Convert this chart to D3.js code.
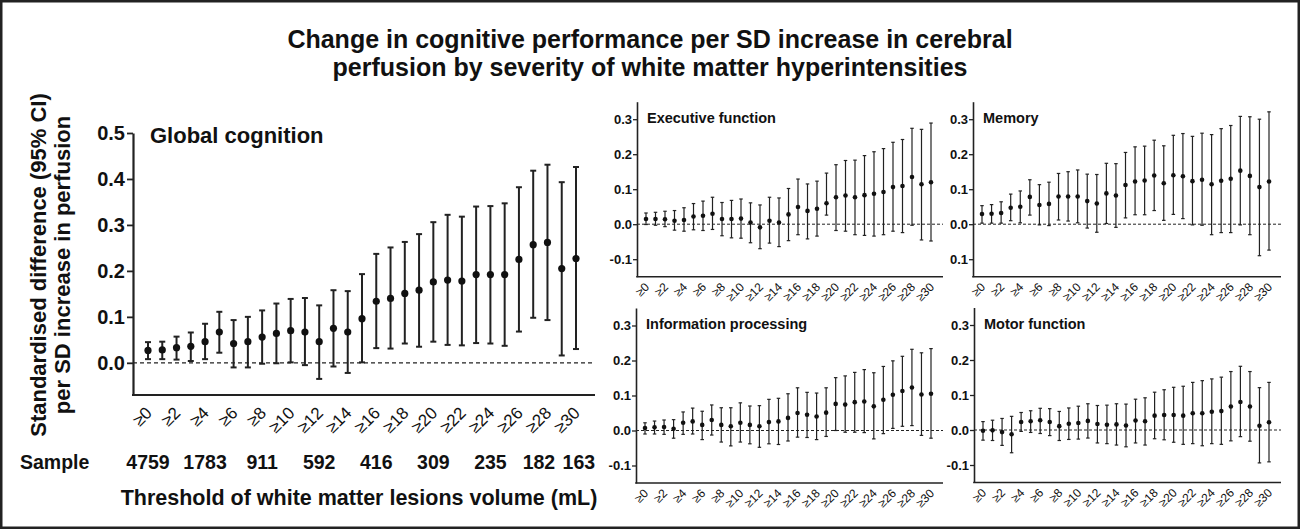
<!DOCTYPE html>
<html>
<head>
<meta charset="utf-8">
<script src="https://cdn.jsdelivr.net/npm/d3@7"></script>
<style>
  body { margin: 0; background: #fff; }
  text { font-family: "Liberation Sans", Arial, sans-serif; fill: #111; }
</style>
</head>
<body>
<div id="chart"></div>
<script>
// thresholds of WMH volume (mL), one point per threshold
const thresholds = [0,1,2,3,4,5,6,7,8,9,10,11,12,13,14,15,16,17,18,19,20,21,22,23,24,25,26,27,28,29,30];
const tickThresholds = [0,2,4,6,8,10,12,14,16,18,20,22,24,26,28,30];

// sample sizes, and the threshold each count sits under
const sampleThresholds = [0,4,8,12,16,20,24,27.4,30.2];
const sampleSizes = [4759,1783,911,592,416,309,235,182,163];

// Global cognition
const globalMean  = [0.027,0.028,0.033,0.036,0.046,0.067,0.042,0.046,0.056,0.064,0.070,0.067,0.046,0.075,0.067,0.096,0.134,0.140,0.151,0.158,0.176,0.180,0.178,0.192,0.192,0.192,0.225,0.257,0.262,0.205,0.227];
const globalLower = [0.008,0.008,0.007,0.004,0.008,0.022,-0.010,-0.010,-0.002,-0.001,0.001,-0.005,-0.035,-0.008,-0.022,0.001,0.032,0.031,0.042,0.035,0.046,0.039,0.038,0.043,0.042,0.037,0.068,0.098,0.093,0.016,0.030];
const globalUpper = [0.045,0.046,0.057,0.066,0.085,0.111,0.093,0.100,0.114,0.129,0.139,0.141,0.125,0.158,0.156,0.193,0.237,0.251,0.263,0.280,0.306,0.322,0.318,0.340,0.341,0.347,0.382,0.418,0.431,0.393,0.426];

// Executive function
const execMean  = [0.015,0.015,0.014,0.010,0.012,0.022,0.024,0.030,0.015,0.015,0.016,0.005,-0.009,0.010,0.005,0.028,0.049,0.038,0.044,0.060,0.077,0.082,0.077,0.083,0.087,0.092,0.106,0.109,0.135,0.114,0.120];
const execLower = [-0.001,-0.003,-0.007,-0.017,-0.020,-0.016,-0.018,-0.015,-0.033,-0.039,-0.040,-0.053,-0.070,-0.054,-0.064,-0.047,-0.030,-0.042,-0.034,0.026,-0.018,-0.020,-0.030,-0.032,-0.034,-0.030,-0.020,-0.024,-0.003,-0.045,-0.048];
const execUpper = [0.032,0.034,0.037,0.039,0.047,0.059,0.066,0.077,0.062,0.068,0.072,0.061,0.055,0.077,0.075,0.102,0.129,0.115,0.123,0.146,0.170,0.182,0.183,0.196,0.207,0.216,0.234,0.242,0.274,0.271,0.289];

// Memory
const memMean  = [0.029,0.030,0.032,0.047,0.050,0.078,0.055,0.058,0.079,0.079,0.079,0.066,0.059,0.088,0.082,0.112,0.122,0.125,0.139,0.117,0.140,0.137,0.123,0.127,0.114,0.124,0.130,0.153,0.138,0.106,0.122];
const memLower = [0.003,0.003,0.003,0.010,0.004,0.026,-0.002,-0.004,0.012,0.009,0.004,-0.011,-0.023,0.002,-0.009,0.018,0.027,0.027,0.039,0.011,0.028,0.016,-0.002,-0.003,-0.030,-0.024,-0.024,-0.002,-0.030,-0.090,-0.074];
const memUpper = [0.053,0.056,0.064,0.086,0.095,0.127,0.113,0.120,0.145,0.150,0.155,0.143,0.142,0.174,0.173,0.205,0.221,0.223,0.240,0.224,0.254,0.259,0.251,0.260,0.256,0.273,0.282,0.308,0.307,0.300,0.321];

// Information processing
const infoMean  = [0.007,0.009,0.010,0.005,0.022,0.026,0.016,0.030,0.016,0.012,0.022,0.016,0.012,0.024,0.026,0.036,0.050,0.045,0.040,0.051,0.076,0.074,0.081,0.083,0.069,0.088,0.102,0.113,0.123,0.103,0.105];
const infoLower = [-0.010,-0.010,-0.011,-0.022,-0.011,-0.010,-0.026,-0.013,-0.033,-0.044,-0.033,-0.038,-0.048,-0.038,-0.040,-0.030,-0.019,-0.020,-0.026,-0.017,0.000,-0.005,-0.005,-0.006,-0.024,-0.009,0.006,0.012,0.014,-0.014,-0.022];
const infoUpper = [0.022,0.027,0.030,0.031,0.053,0.064,0.055,0.073,0.065,0.065,0.079,0.070,0.071,0.089,0.092,0.105,0.122,0.109,0.107,0.122,0.151,0.156,0.166,0.174,0.165,0.183,0.199,0.212,0.232,0.222,0.234];

// Motor function
const motorMean  = [-0.002,-0.001,-0.006,-0.012,0.023,0.025,0.028,0.023,0.011,0.018,0.020,0.026,0.017,0.015,0.016,0.013,0.027,0.025,0.041,0.043,0.043,0.041,0.048,0.048,0.052,0.054,0.067,0.080,0.067,0.012,0.022];
const motorLower = [-0.029,-0.030,-0.044,-0.065,-0.004,-0.007,-0.010,-0.016,-0.030,-0.027,-0.026,-0.023,-0.037,-0.039,-0.043,-0.048,-0.037,-0.043,-0.025,-0.028,-0.035,-0.041,-0.039,-0.045,-0.039,-0.041,-0.031,-0.019,-0.032,-0.094,-0.091];
const motorUpper = [0.024,0.028,0.033,0.039,0.050,0.055,0.062,0.061,0.053,0.063,0.068,0.075,0.070,0.071,0.075,0.074,0.088,0.092,0.108,0.115,0.122,0.125,0.136,0.141,0.146,0.151,0.167,0.182,0.167,0.121,0.136];

const mainTicks = [0,0.1,0.2,0.3,0.4,0.5];
const smallTicks = [-0.1,0,0.1,0.2,0.3];

const width = 1300, height = 529;

const svg = d3.select("#chart").append("svg")
  .attr("width", width)
  .attr("height", height);

svg.append("rect")
  .attr("x", 1.25).attr("y", 1.25)
  .attr("width", width - 2.5).attr("height", height - 2.5)
  .attr("fill", "#fff")
  .attr("stroke", "#222")
  .attr("stroke-width", 2.5);

// title
const title = svg.append("text")
  .attr("text-anchor", "middle")
  .style("font-size", "25px")
  .style("font-weight", "bold");
title.append("tspan").attr("x", 650).attr("y", 48)
  .text("Change in cognitive performance per SD increase in cerebral");
title.append("tspan").attr("x", 650).attr("y", 76)
  .text("perfusion by severity of white matter hyperintensities");

function drawBars(g, x, y, mean, lower, upper, cap, r, sw) {
  const rows = thresholds.map((t, i) => ({ t, m: mean[i], lo: lower[i], hi: upper[i] }));
  const bar = g.selectAll(".bar").data(rows).enter().append("g").attr("class", "bar");
  bar.append("line")
    .attr("x1", d => x(d.t)).attr("x2", d => x(d.t))
    .attr("y1", d => y(d.lo)).attr("y2", d => y(d.hi))
    .attr("stroke", "#222").attr("stroke-width", sw);
  bar.append("line")
    .attr("x1", d => x(d.t) - cap / 2).attr("x2", d => x(d.t) + cap / 2)
    .attr("y1", d => y(d.hi)).attr("y2", d => y(d.hi))
    .attr("stroke", "#222").attr("stroke-width", sw);
  bar.append("line")
    .attr("x1", d => x(d.t) - cap / 2).attr("x2", d => x(d.t) + cap / 2)
    .attr("y1", d => y(d.lo)).attr("y2", d => y(d.lo))
    .attr("stroke", "#222").attr("stroke-width", sw);
  bar.append("circle")
    .attr("cx", d => x(d.t)).attr("cy", d => y(d.m))
    .attr("r", r).attr("fill", "#111");
}

// ---- main panel: global cognition ----
const main = { left: 133, right: 595, top: 133, bottom: 395 };
const xMain = d3.scaleLinear().domain([0, 30]).range([main.left + 15, main.right - 19]);
const yMain = d3.scaleLinear().domain([-0.07, 0.5]).range([main.bottom, main.top]);

const gMain = svg.append("g");

gMain.append("line")
  .attr("x1", main.left).attr("x2", main.right)
  .attr("y1", yMain(0)).attr("y2", yMain(0))
  .attr("stroke", "#222").attr("stroke-width", 1.2)
  .attr("stroke-dasharray", "4,3");

const yAxisMain = gMain.append("g")
  .attr("transform", `translate(${main.left},0)`)
  .call(d3.axisLeft(yMain).tickValues(mainTicks).tickFormat(d3.format(".1f")).tickSize(6).tickSizeOuter(0));
yAxisMain.select(".domain").attr("stroke", "#222").attr("stroke-width", 2.2);
yAxisMain.selectAll(".tick line").attr("stroke", "#222").attr("stroke-width", 1.8);
yAxisMain.selectAll(".tick text")
  .attr("x", -8)
  .style("font-size", "20px").style("font-weight", "bold")
  .style("font-family", "'Liberation Sans', Arial, sans-serif").attr("fill", "#111");

gMain.append("line")
  .attr("x1", main.left - 1).attr("x2", main.right)
  .attr("y1", main.bottom).attr("y2", main.bottom)
  .attr("stroke", "#222").attr("stroke-width", 2.2);

drawBars(gMain, xMain, yMain, globalMean, globalLower, globalUpper, 6, 3.6, 2);

gMain.append("text")
  .attr("x", 150).attr("y", 143)
  .style("font-size", "22px").style("font-weight", "bold")
  .text("Global cognition");

gMain.selectAll(".xlab").data(tickThresholds).enter().append("text")
  .attr("class", "xlab")
  .attr("text-anchor", "end")
  .attr("transform", d => `translate(${xMain(d) + 5},${main.bottom + 19}) rotate(-45)`)
  .style("font-size", "17px")
  .text(d => "\u2265" + d);

svg.append("text")
  .attr("x", 20).attr("y", 469)
  .style("font-size", "19.5px").style("font-weight", "bold")
  .text("Sample");

svg.selectAll(".sample").data(sampleSizes).enter().append("text")
  .attr("class", "sample")
  .attr("text-anchor", "middle")
  .attr("x", (d, i) => xMain(sampleThresholds[i]))
  .attr("y", 469)
  .style("font-size", "19.5px").style("font-weight", "bold")
  .text(d => d);

svg.append("text")
  .attr("x", 359).attr("y", 505)
  .attr("text-anchor", "middle")
  .style("font-size", "21.5px").style("font-weight", "bold")
  .text("Threshold of white matter lesions volume (mL)");

const yTitle = svg.append("text")
  .attr("text-anchor", "middle")
  .attr("transform", "translate(0,265) rotate(-90)")
  .style("font-size", "22px").style("font-weight", "bold");
yTitle.append("tspan").attr("x", 0).attr("y", 46).text("Standardised difference (95% CI)");
yTitle.append("tspan").attr("x", 0).attr("y", 70).text("per SD increase in perfusion");

// ---- small panels ----
const panels = [
  { name: "Executive function", mean: execMean, lower: execLower, upper: execUpper,
    left: 637, right: 943, top: 101.7, bottom: 276.7, labels: ["-0.1","0.0","0.1","0.2","0.3"] },
  { name: "Memory", mean: memMean, lower: memLower, upper: memUpper,
    left: 973, right: 1281, top: 101.7, bottom: 276.7, labels: ["0.1","0.0","0.1","0.2","0.3"] },
  { name: "Information processing", mean: infoMean, lower: infoLower, upper: infoUpper,
    left: 636, right: 943, top: 308, bottom: 483, labels: ["-0.1","0.0","0.1","0.2","0.3"] },
  { name: "Motor function", mean: motorMean, lower: motorLower, upper: motorUpper,
    left: 974, right: 1281, top: 307.5, bottom: 482.5, labels: ["-0.1","0.0","0.1","0.2","0.3"] }
];

panels.forEach(p => {
  const g = svg.append("g");
  const x = d3.scaleLinear().domain([0, 30]).range([p.left + 9, p.right - 12]);
  const y = d3.scaleLinear().domain([-0.15, 0.35]).range([p.bottom, p.top]);

  g.append("line")
    .attr("x1", p.left).attr("x2", p.right)
    .attr("y1", y(0)).attr("y2", y(0))
    .attr("stroke", "#222").attr("stroke-width", 1)
    .attr("stroke-dasharray", "3,2");

  const ax = g.append("g")
    .attr("transform", `translate(${p.left},0)`)
    .call(d3.axisLeft(y).tickValues(smallTicks).tickFormat((d, i) => p.labels[i]).tickSize(4).tickSizeOuter(0));
  ax.select(".domain").attr("stroke", "#222").attr("stroke-width", 1.6);
  ax.selectAll(".tick line").attr("stroke", "#222").attr("stroke-width", 1.3);
  ax.selectAll(".tick text")
    .attr("x", -5)
    .style("font-size", "13px").style("font-weight", "bold")
    .style("font-family", "'Liberation Sans', Arial, sans-serif").attr("fill", "#111");

  g.append("line")
    .attr("x1", p.left - 0.8).attr("x2", p.right)
    .attr("y1", p.bottom).attr("y2", p.bottom)
    .attr("stroke", "#222").attr("stroke-width", 1.6);

  drawBars(g, x, y, p.mean, p.lower, p.upper, 3.5, 2.3, 1.2);

  g.append("text")
    .attr("x", p.left + 10).attr("y", p.top + 21)
    .style("font-size", "14.5px").style("font-weight", "bold")
    .text(p.name);

  g.selectAll(".xlab").data(tickThresholds).enter().append("text")
    .attr("class", "xlab")
    .attr("text-anchor", "end")
    .attr("transform", d => `translate(${x(d) + 4},${p.bottom + 11}) rotate(-45)`)
    .style("font-size", "12px")
    .text(d => "\u2265" + d);
});
</script>
</body>
</html>
